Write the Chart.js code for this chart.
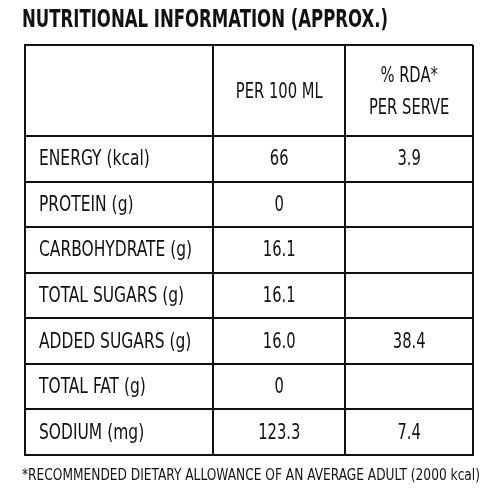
<!DOCTYPE html>
<html>
<head>
<meta charset="utf-8">
<script src="https://cdn.jsdelivr.net/npm/chart.js@4"></script>
<style>
  html, body { margin: 0; padding: 0; background: #fff; }
  #wrap { width: 500px; height: 500px; }
</style>
</head>
<body>
<div id="wrap"><canvas id="tbl"></canvas></div>
<script>
var titleText = 'NUTRITIONAL INFORMATION (APPROX.)';
var footnote = '*RECOMMENDED DIETARY ALLOWANCE OF AN AVERAGE ADULT (2000 kcal)';
var headers = ['', ['PER 100 ML'], ['% RDA*', 'PER SERVE']];
var nutrients = ['ENERGY (kcal)', 'PROTEIN (g)', 'CARBOHYDRATE (g)', 'TOTAL SUGARS (g)',
                 'ADDED SUGARS (g)', 'TOTAL FAT (g)', 'SODIUM (mg)'];
var per100 = ['66', '0', '16.1', '16.1', '16.0', '0', '123.3'];
var rda = ['3.9', '', '', '', '38.4', '', '7.4'];

// column boundaries (x) and row boundaries (y), header is two units tall
var colEdges = [0, 42, 71.5, 100];
var rowEdges = [0, 2, 3, 4, 5, 6, 7, 8, 9];

var FONT = "'DejaVu Sans Condensed', 'Liberation Sans Narrow', sans-serif";

// draws text squeezed horizontally, to mimic the narrow type of the original
function narrow(ctx, text, x, y, align, k) {
  var w = ctx.measureText(text).width;
  ctx.textAlign = align;
  ctx.fillText(text, x, y, w * k);
}

var tablePlugin = {
  id: 'tableText',
  afterDraw: function(chart) {
    var ctx = chart.ctx, x = chart.scales.x, y = chart.scales.y;
    ctx.save();
    ctx.fillStyle = '#111';
    ctx.textBaseline = 'middle';

    ctx.font = 'bold 24px ' + FONT;
    ctx.textAlign = 'left';
    ctx.fillText(titleText, 22, 21, 366);

    ctx.font = '16px ' + FONT;
    ctx.fillText(footnote, 22, 476, 458);

    function mid(edges, i, s) { return (s.getPixelForValue(edges[i]) + s.getPixelForValue(edges[i + 1])) / 2; }

    ctx.font = '21px ' + FONT;
    for (var c = 1; c < headers.length; c++) {
      var lines = headers[c], cx = mid(colEdges, c, x), cy = mid(rowEdges, 0, y);
      for (var l = 0; l < lines.length; l++) {
        narrow(ctx, lines[l], cx, cy + (l - (lines.length - 1) / 2) * 32 + 2, 'center', 0.78);
      }
    }
    for (var r = 0; r < nutrients.length; r++) {
      var ry = mid(rowEdges, r + 1, y) + 1;
      narrow(ctx, nutrients[r], x.getPixelForValue(colEdges[0]) + 14, ry, 'left', 0.82);
      narrow(ctx, per100[r], mid(colEdges, 1, x), ry, 'center', 0.78);
      narrow(ctx, rda[r], mid(colEdges, 2, x), ry, 'center', 0.78);
    }
    ctx.restore();
  }
};

new Chart(document.getElementById('tbl'), {
  type: 'scatter',
  data: { datasets: [{ data: [] }] },
  options: {
    responsive: true,
    maintainAspectRatio: false,
    animation: false,
    layout: { padding: { left: 25, top: 45, right: 27, bottom: 45 } },
    plugins: { legend: { display: false }, tooltip: { enabled: false } },
    scales: {
      x: {
        min: 0, max: 100,
        afterBuildTicks: function(s) { s.ticks = colEdges.map(function(v) { return { value: v }; }); },
        ticks: { display: false },
        grid: { color: '#111', lineWidth: 2, drawTicks: false },
        border: { color: '#111', width: 2 }
      },
      y: {
        min: 0, max: 9, reverse: true,
        afterBuildTicks: function(s) { s.ticks = rowEdges.map(function(v) { return { value: v }; }); },
        ticks: { display: false },
        grid: { color: '#111', lineWidth: 2, drawTicks: false },
        border: { color: '#111', width: 2 }
      }
    }
  },
  plugins: [tablePlugin]
});
</script>
</body>
</html>
